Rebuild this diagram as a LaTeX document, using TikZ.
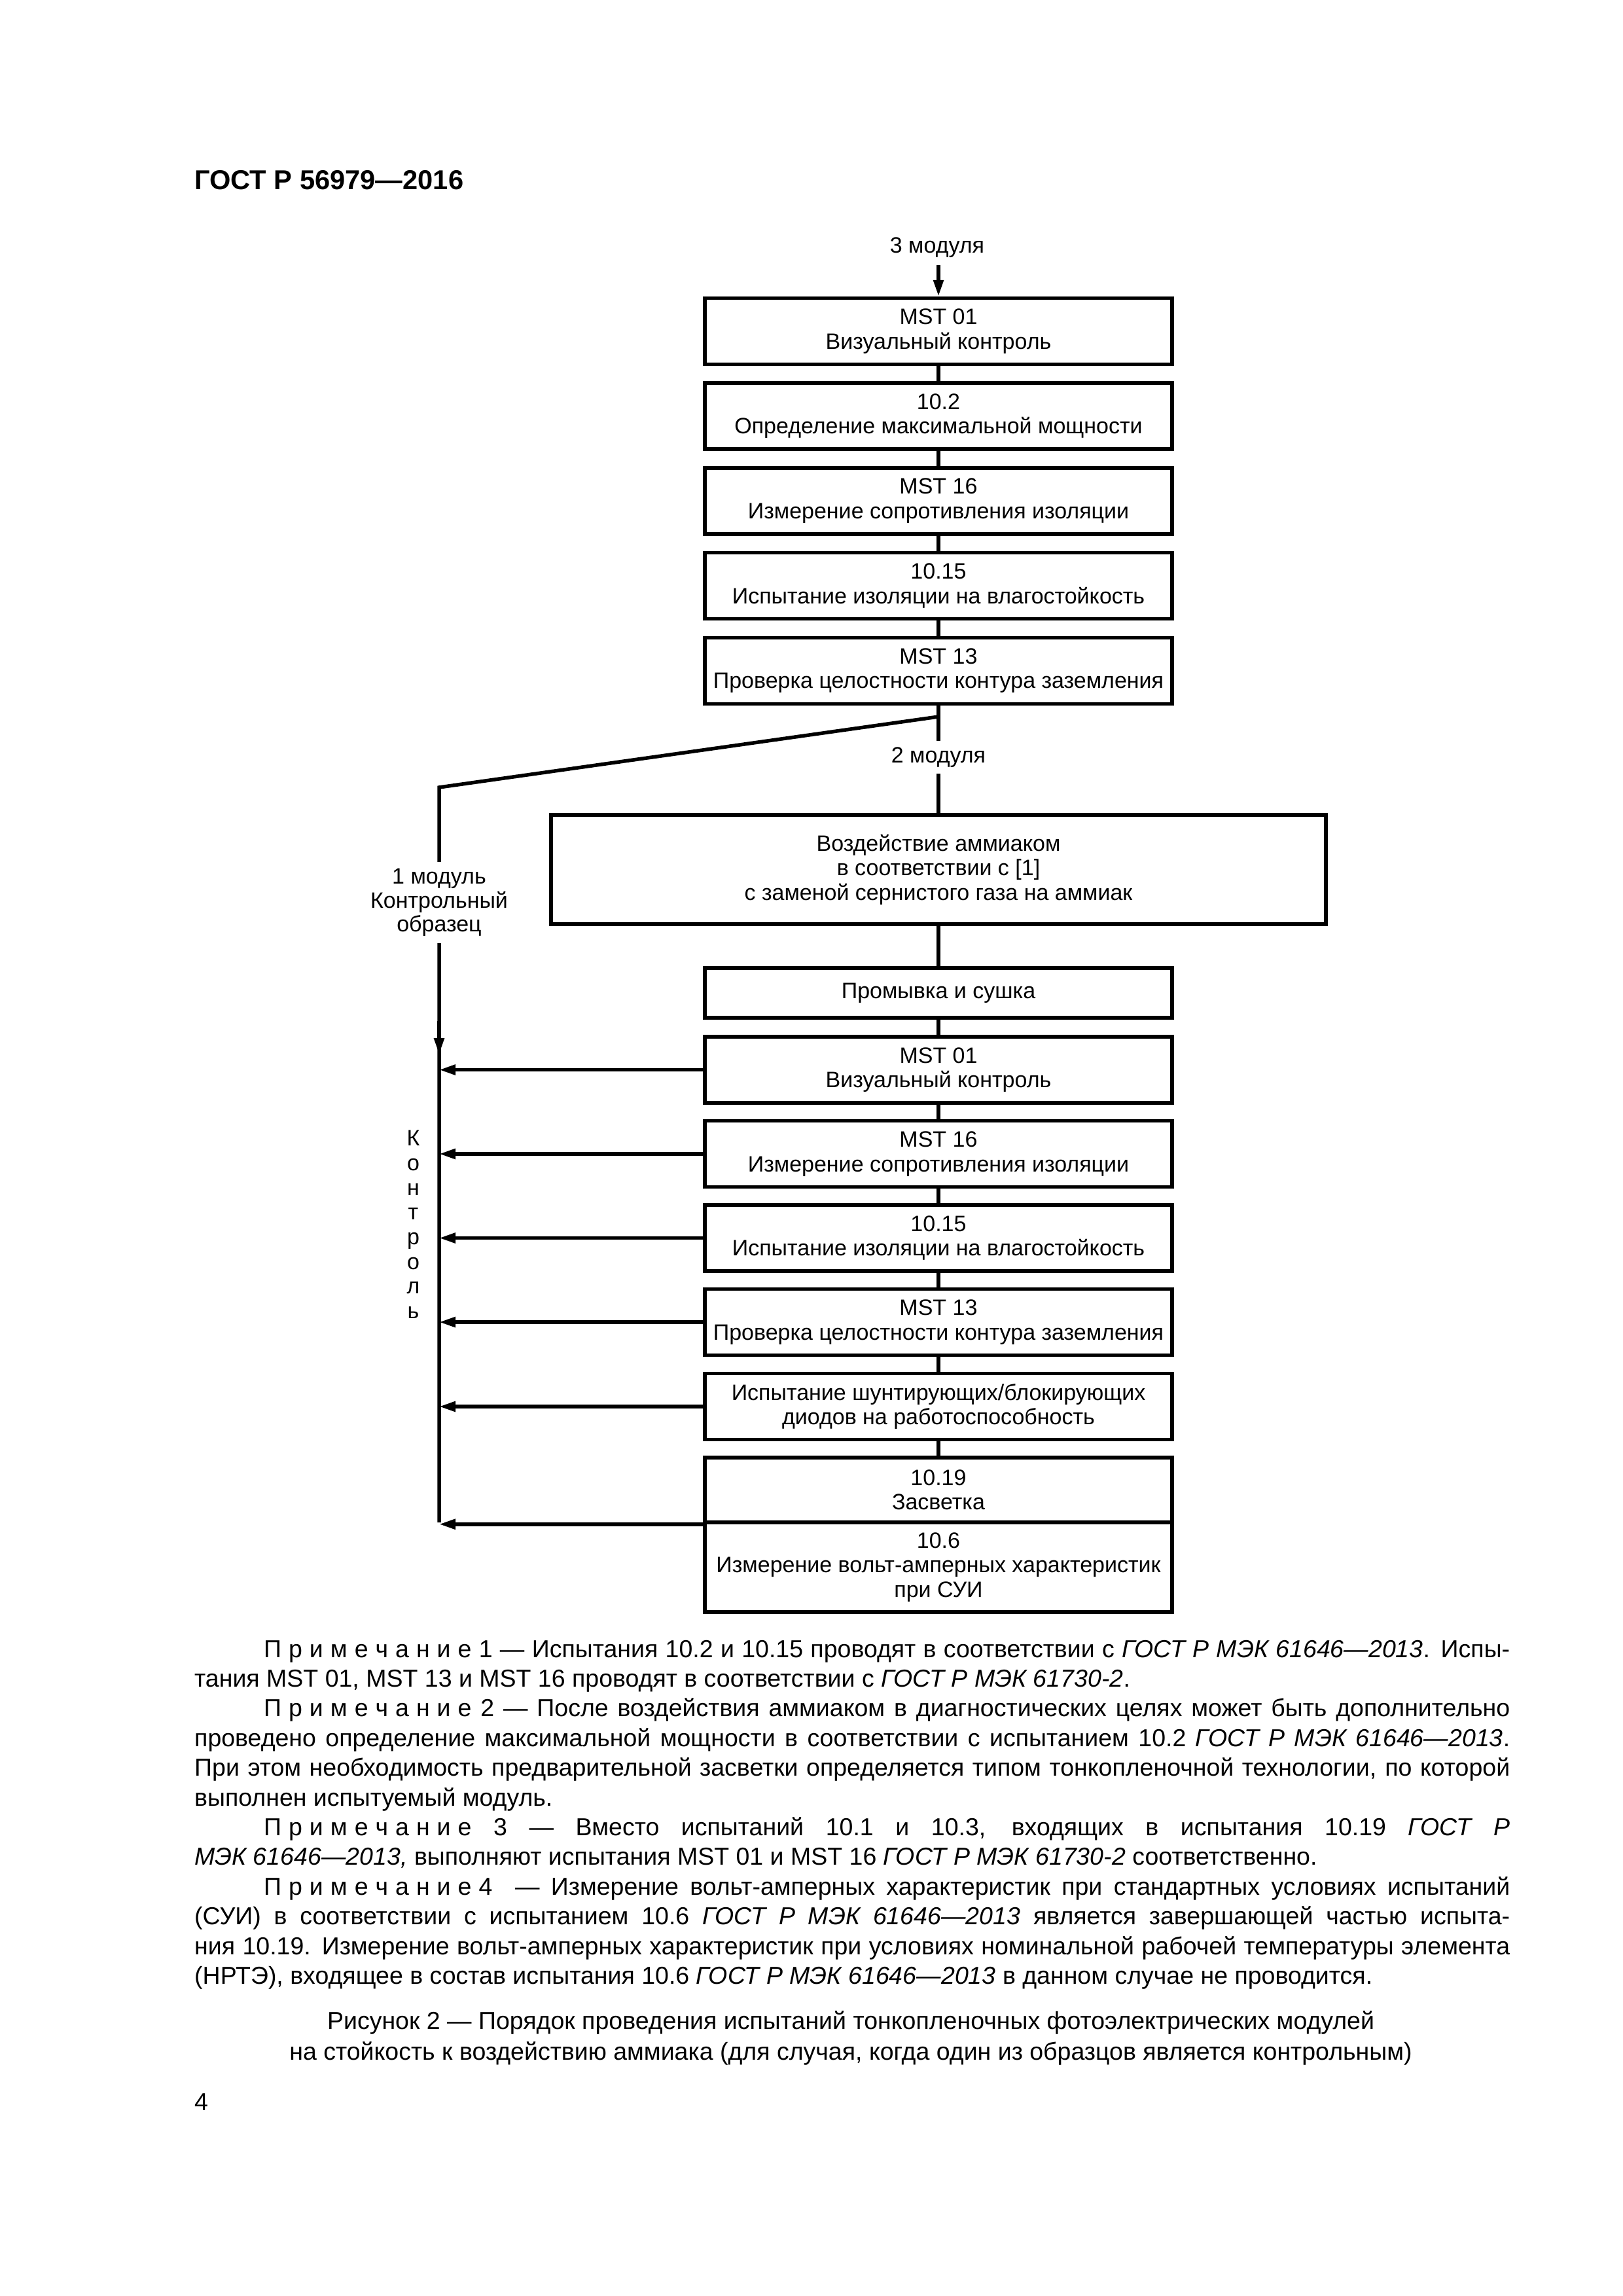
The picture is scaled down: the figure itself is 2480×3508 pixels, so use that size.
\documentclass[tikz,border=0pt]{standalone}
\usepackage{fontspec}
\setmainfont{Liberation Sans}
\usepackage{graphicx}
\usetikzlibrary{arrows.meta}
\newsavebox\lnbox
\newcommand\jline[2]{\sbox\lnbox{#2}\ifdim\wd\lnbox>#1\relax\resizebox{#1}{\ht\lnbox}{\usebox\lnbox}\else\makebox[#1][s]{#2}\fi}
\newcommand\lsp{\kern11pt}
\newcommand\prim{П\lsp р\lsp и\lsp м\lsp е\lsp ч\lsp а\lsp н\lsp и\lsp е}
\newcommand\dfont{\fontsize{34pt}{37.5pt}\selectfont}
\newcommand\nfont{\fontsize{37.5pt}{45pt}\selectfont}
\tikzset{
  box/.style={draw, line width=5.5pt, minimum width=714pt, minimum height=101pt, inner sep=0pt, align=center, font=\dfont},
  ln/.style={line width=5.5pt},
  arr/.style={line width=5.5pt, -{Triangle[length=25pt,width=15pt]}},
  lbl/.style={inner sep=0pt, align=center, font=\dfont},
  note/.style={anchor=base west, inner sep=0pt, font=\nfont},
}
\begin{document}
\begin{tikzpicture}[x=1pt,y=-1pt]
\fill[white] (0,0) rectangle (2480,3508);
\useasboundingbox (0,0) rectangle (2480,3508);

\node[anchor=base west, inner sep=0pt, font=\fontsize{41.67pt}{50pt}\selectfont\bfseries] (title) at (297,289) {ГОСТ Р 56979—2016};

% boxes
\node[box] (b1) at (1434,506) {MST 01\\Визуальный контроль};
\node[box] (b2) at (1434,635.7) {10.2\\Определение максимальной мощности};
\node[box] (b3) at (1434,765.4) {MST 16\\Измерение сопротивления изоляции};
\node[box] (b4) at (1434,895.1) {10.15\\Испытание изоляции на влагостойкость};
\node[box] (b5) at (1434,1024.8) {MST 13\\Проверка целостности контура заземления};
\node[box, minimum width=1184pt, minimum height=167pt] (b6) at (1434,1328.5) {Воздействие аммиаком\\в соответствии с [1]\\с заменой сернистого газа на аммиак};
\node[box, minimum height=76pt] (b7) at (1434,1517) {Промывка и сушка};
\node[box] (b8) at (1434,1634.5) {MST 01\\Визуальный контроль};
\node[box] (b9) at (1434,1763) {MST 16\\Измерение сопротивления изоляции};
\node[box] (b10) at (1434,1891.5) {10.15\\Испытание изоляции на влагостойкость};
\node[box] (b11) at (1434,2020) {MST 13\\Проверка целостности контура заземления};
\node[box] (b12) at (1434,2149) {Испытание шунтирующих/блокирующих\\диодов на работоспособность};
\node[box, minimum height=99pt] (b13) at (1434,2276.5) {10.19\\Засветка};
\node[box, minimum height=137pt] (b14) at (1434,2394.5) {10.6\\Измерение вольт-амперных характеристик\\при СУИ};

% coordinates
\coordinate (t0) at (1434,405);
\coordinate (j) at (1434,1095);
\coordinate (cL) at (671,1203);
\coordinate (Lb) at (671,2326);
\coordinate (dst) at (671,1560);
\coordinate (dtip) at (671,1611);

% connectors
\draw[arr] (t0) -- (b1);
\draw[ln] (b1) -- (b2);
\draw[ln] (b2) -- (b3);
\draw[ln] (b3) -- (b4);
\draw[ln] (b4) -- (b5);
\draw[ln] (b5) -- (b6);
\draw[ln] (b6) -- (b7);
\draw[ln] (b7) -- (b8);
\draw[ln] (b8) -- (b9);
\draw[ln] (b9) -- (b10);
\draw[ln] (b10) -- (b11);
\draw[ln] (b11) -- (b12);
\draw[ln] (b12) -- (b13);
\draw[ln, line join=miter] (j) -- (cL) -- (Lb);
\draw[arr] (dst) -- (dtip);
\draw[arr] (b8.west) -- (b8.west -| Lb);
\draw[arr] (b9.west) -- (b9.west -| Lb);
\draw[arr] (b10.west) -- (b10.west -| Lb);
\draw[arr] (b11.west) -- (b11.west -| Lb);
\draw[arr] (b12.west) -- (b12.west -| Lb);
\draw[arr] (b13.south west) -- (b13.south west -| Lb);

% labels
\node[lbl] (m3) at (1432,378) {3 модуля};
\node[lbl, fill=white, inner ysep=10pt] (m2) at (1434,1157) {2 модуля};
\node[lbl, fill=white, inner xsep=3pt, inner ysep=10pt, font=\fontsize{34pt}{36.5pt}\selectfont] (m1) at (671,1379) {1 модуль\\Контрольный\\образец};
\node[lbl, font=\fontsize{34pt}{37.7pt}\selectfont] (kt) at (631.5,1871) {К\\о\\н\\т\\р\\о\\л\\ь};

% notes
\node[note] (n1) at (403,2532) {\jline{1904pt}{\prim\ 1 — Испытания 10.2 и 10.15 проводят в соответствии с \textit{ГОСТ Р МЭК 61646—2013}. Испы-}};
\node[note] (n2) at (297,2577.4) {тания MST 01, MST 13 и MST 16 проводят в соответствии с \textit{ГОСТ Р МЭК 61730-2}.};
\node[note] (n3) at (403,2622.8) {\jline{1904pt}{\prim\ 2 — После воздействия аммиаком в диагностических целях может быть дополнительно}};
\node[note] (n4) at (297,2668.2) {\jline{2010pt}{проведено определение максимальной мощности в соответствии с испытанием 10.2 \textit{ГОСТ Р МЭК 61646—2013}.}};
\node[note] (n5) at (297,2713.6) {\jline{2010pt}{При этом необходимость предварительной засветки определяется типом тонкопленочной технологии, по которой}};
\node[note] (n6) at (297,2759) {выполнен испытуемый модуль.};
\node[note] (n7) at (403,2804.4) {\jline{1904pt}{\prim\ 3 — Вместо испытаний 10.1 и 10.3, входящих в испытания 10.19 \textit{ГОСТ Р}}};
\node[note] (n8) at (297,2849.8) {\textit{МЭК 61646—2013,} выполняют испытания MST 01 и MST 16 \textit{ГОСТ Р МЭК 61730-2} соответственно.};
\node[note] (n9) at (403,2895.2) {\jline{1904pt}{\prim\lsp 4 \ — Измерение вольт-амперных характеристик при стандартных условиях испытаний}};
\node[note] (n10) at (297,2940.6) {\jline{2010pt}{(СУИ) в соответствии с испытанием 10.6 \textit{ГОСТ Р МЭК 61646—2013} является завершающей частью испыта-}};
\node[note] (n11) at (297,2986) {\jline{2010pt}{ния 10.19. Измерение вольт-амперных характеристик при условиях номинальной рабочей температуры элемента}};
\node[note] (n12) at (297,3031.4) {(НРТЭ), входящее в состав испытания 10.6 \textit{ГОСТ Р МЭК 61646—2013} в данном случае не проводится.};

% caption
\node[anchor=base, inner sep=0pt, font=\nfont] (cap1) at (1300,3100) {Рисунок 2 — Порядок проведения испытаний тонкопленочных фотоэлектрических модулей};
\node[anchor=base, inner sep=0pt, font=\nfont] (cap2) at (1300,3147) {на стойкость к воздействию аммиака (для случая, когда один из образцов является контрольным)};

\node[note] (pg) at (297,3224) {4};
\end{tikzpicture}
\end{document}
